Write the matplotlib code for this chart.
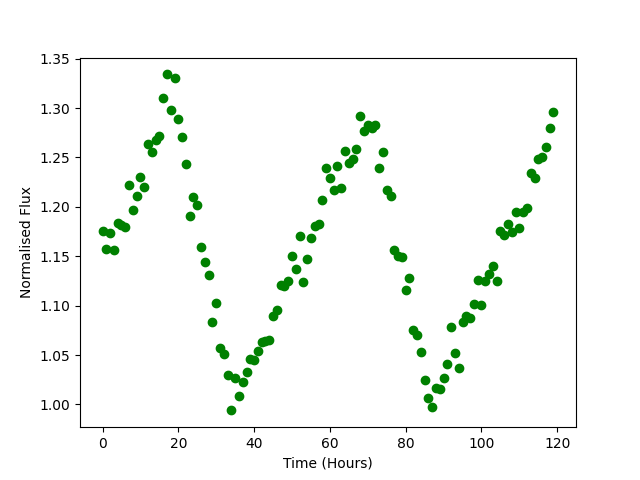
import matplotlib
matplotlib.use("Agg")
import matplotlib.pyplot as plt
import numpy as np

# one reading per hour
hours = np.arange(120)
flux = [
    1.176, 1.157, 1.174, 1.156, 1.184, 1.182, 1.180, 1.222, 1.197, 1.211,
    1.230, 1.220, 1.264, 1.255, 1.268, 1.272, 1.310, 1.334, 1.298, 1.330,
    1.289, 1.271, 1.243, 1.191, 1.210, 1.202, 1.159, 1.144, 1.131, 1.083,
    1.103, 1.057, 1.051, 1.030, 0.994, 1.027, 1.009, 1.023, 1.033, 1.046,
    1.045, 1.054, 1.063, 1.064, 1.065, 1.090, 1.096, 1.121, 1.120, 1.125,
    1.150, 1.137, 1.170, 1.124, 1.147, 1.168, 1.181, 1.183, 1.207, 1.239,
    1.229, 1.217, 1.241, 1.219, 1.256, 1.244, 1.248, 1.259, 1.292, 1.277,
    1.283, 1.280, 1.283, 1.239, 1.255, 1.217, 1.211, 1.156, 1.150, 1.149,
    1.116, 1.128, 1.075, 1.070, 1.053, 1.025, 1.007, 0.997, 1.017, 1.016,
    1.027, 1.041, 1.078, 1.052, 1.037, 1.083, 1.090, 1.087, 1.102, 1.126,
    1.101, 1.125, 1.132, 1.140, 1.125, 1.176, 1.171, 1.183, 1.175, 1.195,
    1.179, 1.195, 1.199, 1.234, 1.229, 1.248, 1.250, 1.261, 1.280, 1.296,
]

fig, ax = plt.subplots(figsize=(6.4, 4.8), dpi=100)
ax.plot(hours, flux, "o", color="green")
ax.set_xlabel("Time (Hours)")
ax.set_ylabel("Normalised Flux")
fig.savefig("out.png")
